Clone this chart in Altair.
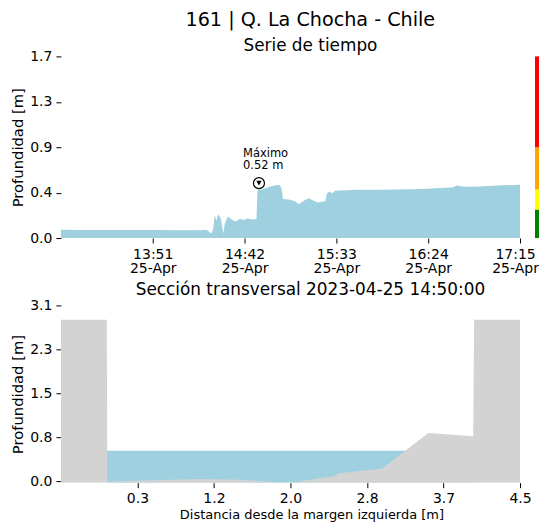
import altair as alt
import pandas as pd

FONT = "DejaVu Sans"
BLUE = "#9ed0e0"
GREY = "#d3d3d3"

# ---------------- Serie de tiempo ----------------
date = "2023-04-25"
times = ["13:00:00", "13:13:00", "13:26:00", "13:40:00", "13:54:00", "14:08:00",
         "14:21:00", "14:22:12", "14:23:30", "14:24:36", "14:25:24", "14:26:18",
         "14:27:24", "14:28:24", "14:29:00", "14:30:12", "14:30:54", "14:32:36",
         "14:35:12", "14:37:00", "14:39:24", "14:41:36", "14:43:48", "14:46:24",
         "14:48:36", "14:49:12", "14:51:48", "14:56:24", "15:00:30", "15:01:36",
         "15:02:30", "15:03:24", "15:07:30", "15:10:18", "15:12:06", "15:14:54",
         "15:17:36", "15:20:24", "15:22:36", "15:25:36", "15:26:48", "15:27:48",
         "15:29:18", "15:30:36", "15:32:24", "15:44:30", "15:57:24", "16:15:54",
         "16:23:18", "16:38:00", "16:39:54", "16:42:42", "16:45:24", "16:52:48",
         "17:02:06", "17:15:00"]
depth = [0.078, 0.077, 0.076, 0.077, 0.076, 0.075,
         0.076, 0.063, 0.041, 0.090, 0.220, 0.165,
         0.225, 0.200, 0.170, 0.040, 0.126, 0.205,
         0.173, 0.157, 0.183, 0.170, 0.185, 0.176,
         0.180, 0.457, 0.463, 0.488, 0.504, 0.498,
         0.470, 0.369, 0.362, 0.347, 0.321, 0.353,
         0.378, 0.353, 0.337, 0.347, 0.345, 0.425,
         0.441, 0.425, 0.447, 0.457, 0.457, 0.463,
         0.466, 0.482, 0.501, 0.488, 0.485, 0.488,
         0.498, 0.504]

x_start = (13, 0)
x_end = (17, 15)
tick_times = [(13, 51), (14, 42), (15, 33), (16, 24), (17, 15)]
y_ticks_top = [0.0, 0.43, 0.86, 1.29, 1.72]
y_max_top = 1.72

max_time = "14:50:00"
max_value = 0.52
max_lines = ["Máximo", "0.52 m"]

level_names = ["Verde", "Amarillo", "Naranja", "Rojo"]
level_lo = [0.0, 0.27, 0.46, 0.86]
level_hi = [0.27, 0.46, 0.86, 1.72]
level_colors = ["#008000", "#ffff00", "#ffa500", "#ff0000"]

# ---------------- Sección transversal ----------------
bed_x = [-0.5, 0.0, 0.005, 1.0, 1.45, 2.0, 2.5, 2.51, 3.0, 3.5, 3.99, 4.0, 4.5]
bed_y = [2.83, 2.83, 0.0, 0.045, 0.03, -0.02, 0.10, 0.14, 0.23, 0.85, 0.79, 2.83, 2.83]
water_x = [0.0, 4.0]
water_level = 0.54
x_dom_bottom = [-0.5, 4.5]
y_dom_bottom = [-0.02, 3.08]
x_ticks_bottom = [1 / 3, 7 / 6, 2.0, 17 / 6, 11 / 3, 4.5]
y_ticks_bottom = [0.0, 0.77, 1.54, 2.31, 3.08]


def dt(hm):
    return alt.DateTime(year=2023, month=4, date=25, hours=hm[0], minutes=hm[1])


ts = pd.DataFrame({"t": [f"{date}T{t}" for t in times], "v": depth})
mx = pd.DataFrame({"t": [f"{date}T{max_time}"], "v": [max_value],
                   "label": ["\n".join(max_lines)]})
levels = pd.DataFrame({"name": level_names, "lo": level_lo, "hi": level_hi})

xs_top = alt.Scale(domain=[dt(x_start), dt(x_end)])
ys_top = alt.Scale(domain=[0, y_max_top], nice=False, zero=False)

area = alt.Chart(ts).mark_area(color=BLUE, interpolate="linear").encode(
    x=alt.X("t:T", scale=xs_top, title=None,
            axis=alt.Axis(values=[dt(t) for t in tick_times],
                          labelExpr="[timeFormat(datum.value, '%H:%M'), timeFormat(datum.value, '%d-%b')]",
                          labelLineHeight=15, labelPadding=4, labelFlush=False,
                          labelOffset={"condition": {"test": "hours(datum.value) == 17",
                                                     "value": -5}, "value": 0})),
    y=alt.Y("v:Q", scale=ys_top, title="Profundidad [m]",
            axis=alt.Axis(values=y_ticks_top, format=".1f")),
)

ring = alt.Chart(mx).mark_point(shape="circle", filled=True, fill="white",
                                stroke="black", strokeWidth=1.2, size=121, opacity=1).encode(
    x="t:T", y="v:Q")
tri = alt.Chart(mx).mark_point(shape="triangle-down", filled=True, color="black",
                               size=28, opacity=1).encode(
    x="t:T", y="v:Q")
lbl = alt.Chart(mx).mark_text(align="left", baseline="alphabetic", dx=-16, dy=-26,
                              fontSize=11.5, lineHeight=12, lineBreak="\n",
                              font=FONT, color="black").encode(
    x="t:T", y="v:Q", text="label:N")

bar = alt.Chart(levels).mark_rect().encode(
    x=alt.value(475), x2=alt.value(479),
    y="lo:Q", y2="hi:Q",
    color=alt.Color("name:N", scale=alt.Scale(domain=level_names, range=level_colors),
                    legend=None),
)

top = alt.layer(area, bar, ring, tri, lbl).properties(
    width=460, height=182,
    title=alt.TitleParams("Serie de tiempo", fontSize=16.9, fontWeight="normal",
                          font=FONT, dx=20, offset=-5, anchor="middle"),
)

# bottom chart
water = pd.DataFrame({"x": water_x, "y": [water_level] * len(water_x)})
bed = pd.DataFrame({"x": bed_x, "y": bed_y})

xs_b = alt.Scale(domain=x_dom_bottom, nice=False, zero=False)
ys_b = alt.Scale(domain=y_dom_bottom, nice=False, zero=False)

water_area = alt.Chart(water).mark_area(color=BLUE, clip=True).encode(
    x=alt.X("x:Q", scale=xs_b, title="Distancia desde la margen izquierda [m]",
            axis=alt.Axis(values=x_ticks_bottom, format=".1f", titleX=251,
                          titleFontSize=13, titlePadding=3, labelFlush=False)),
    y=alt.Y("y:Q", scale=ys_b, title="Profundidad [m]",
            axis=alt.Axis(values=y_ticks_bottom, format=".1f")),
    y2=alt.datum(y_dom_bottom[0]),
)
bed_area = alt.Chart(bed).mark_area(color=GREY, clip=True).encode(
    x="x:Q", y="y:Q",
    y2=alt.datum(y_dom_bottom[0]),
)

bottom = alt.layer(water_area, bed_area).properties(
    width=460, height=177.6,
    title=alt.TitleParams("Sección transversal 2023-04-25 14:50:00", fontSize=16.9,
                          fontWeight="normal", font=FONT, dx=20, offset=0, anchor="middle"),
)

chart = alt.vconcat(top, bottom, spacing=4.5).properties(
    title=alt.TitleParams("161 | Q. La Chocha - Chile", fontSize=19.2, fontWeight="normal",
                          font=FONT, anchor="middle", dx=35.5, offset=6.3),
    padding={"left": 2, "top": 2, "right": 0, "bottom": 0},
).configure_view(stroke=None).configure_axis(
    grid=False, domain=False, labelFont=FONT, titleFont=FONT, labelFontSize=14,
    titleFontSize=14.8, titleFontWeight="normal", labelColor="black", titleColor="black",
    tickColor="black", tickSize=5, labelPadding=4, titlePadding=4,
).configure_text(font=FONT).configure_title(color="black")

chart.save("out.html", embed_options={"renderer": "svg", "actions": False})
